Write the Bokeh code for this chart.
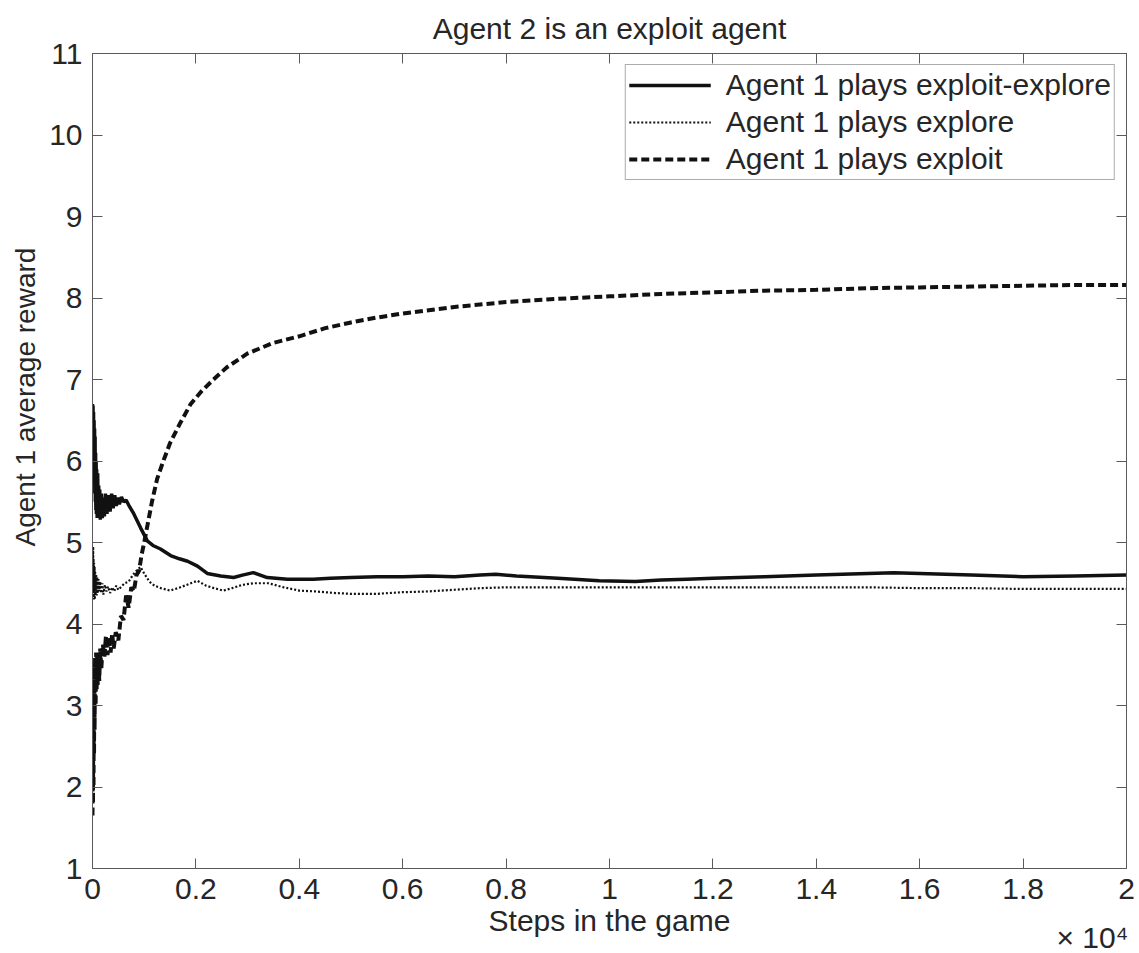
from bokeh.embed import file_html
from bokeh.models import (FixedTicker, Legend, LegendItem, LinearAxis,
                          Range1d, Title)
from bokeh.plotting import figure
from bokeh.resources import INLINE

# ---- data -------------------------------------------------------------
# Agent 1 average reward against steps in the game (agent 2 exploits)
ee_steps = [0, 5, 10, 15, 20, 25, 30, 35, 40, 45, 50, 55, 60, 65, 70, 75, 80,
            90, 100, 110, 120, 130, 140, 150, 170, 190, 210, 230, 250, 280,
            310, 340, 370, 400, 430, 460, 490, 520, 560, 600, 650, 700, 800,
            930, 1060, 1180, 1315, 1510, 1680, 1840, 2030, 2220, 2480, 2730,
            2900, 3110, 3380, 3770, 4270, 4600, 5000, 5500, 6000, 6500, 7000,
            7500, 7800, 8200, 9000, 9800, 10500, 11000, 11500, 12000, 13000,
            14000, 14500, 15000, 15500, 16000, 16500, 17000, 18000, 19000,
            20000]
ee_reward = [6.70, 5.90, 6.68, 6.10, 6.60, 5.95, 6.50, 5.80, 6.40, 5.60, 6.30,
             5.50, 6.10, 5.40, 6.00, 5.35, 5.90, 5.30, 5.85, 5.30, 5.70, 5.30,
             5.65, 5.28, 5.60, 5.30, 5.55, 5.32, 5.60, 5.35, 5.58, 5.38, 5.60,
             5.42, 5.58, 5.45, 5.55, 5.47, 5.56, 5.50, 5.52, 5.46, 5.35, 5.18,
             5.02, 4.96, 4.92, 4.84, 4.80, 4.77, 4.71, 4.62, 4.59, 4.57, 4.60,
             4.63, 4.57, 4.55, 4.55, 4.56, 4.57, 4.58, 4.58, 4.59, 4.58, 4.60,
             4.61, 4.59, 4.56, 4.53, 4.52, 4.54, 4.55, 4.56, 4.58, 4.60, 4.61,
             4.62, 4.63, 4.62, 4.61, 4.60, 4.58, 4.59, 4.60]

ex_steps = [0, 4, 8, 12, 16, 20, 25, 30, 35, 40, 45, 50, 60, 70, 80, 90, 100,
            115, 130, 150, 170, 190, 210, 240, 270, 300, 340, 380, 420, 460,
            500, 560, 620, 700, 780, 860, 930, 1000, 1100, 1200, 1320, 1500,
            1700, 1900, 2030, 2200, 2350, 2530, 2700, 2900, 3110, 3400, 3700,
            4000, 4300, 4700, 5000, 5500, 6000, 6500, 7000, 7500, 8000, 9000,
            10000, 11000, 12000, 13000, 14000, 15000, 16000, 17000, 18000,
            19000, 20000]
ex_reward = [4.50, 4.90, 4.35, 4.95, 4.40, 4.80, 4.30, 4.75, 4.40, 4.70, 4.30,
             4.65, 4.35, 4.60, 4.35, 4.58, 4.38, 4.55, 4.40, 4.52, 4.38, 4.50,
             4.36, 4.48, 4.40, 4.46, 4.38, 4.45, 4.40, 4.47, 4.42, 4.46, 4.50,
             4.52, 4.60, 4.66, 4.70, 4.62, 4.52, 4.47, 4.44, 4.41, 4.45, 4.50,
             4.53, 4.47, 4.44, 4.41, 4.44, 4.48, 4.50, 4.50, 4.45, 4.41, 4.40,
             4.38, 4.37, 4.37, 4.39, 4.40, 4.42, 4.44, 4.45, 4.45, 4.45, 4.45,
             4.45, 4.45, 4.45, 4.45, 4.44, 4.44, 4.43, 4.43, 4.43]

xp_steps = [0, 5, 10, 15, 20, 25, 30, 35, 40, 50, 60, 70, 80, 90, 100, 115,
            130, 150, 170, 200, 230, 260, 290, 320, 350, 380, 410, 450, 500,
            550, 600, 650, 700, 750, 800, 850, 900, 950, 1000, 1060, 1150,
            1250, 1370, 1500, 1700, 1900, 2100, 2340, 2600, 3000, 3500, 4000,
            4500, 5000, 5500, 6000, 7000, 8000, 9000, 10000, 11000, 12000,
            13000, 14000, 15000, 16000, 17000, 18000, 19000, 20000]
xp_reward = [1.65, 2.60, 1.80, 3.00, 2.00, 3.30, 2.40, 3.50, 2.70, 3.60, 3.00,
             3.65, 3.20, 3.60, 3.25, 3.65, 3.30, 3.70, 3.45, 3.75, 3.60, 3.85,
             3.62, 3.85, 3.65, 3.88, 3.70, 3.90, 3.80, 4.10, 4.05, 4.35, 4.20,
             4.45, 4.40, 4.60, 4.65, 4.85, 5.00, 5.20, 5.50, 5.78, 6.00, 6.22,
             6.47, 6.70, 6.85, 7.00, 7.15, 7.32, 7.45, 7.53, 7.63, 7.70, 7.76,
             7.81, 7.89, 7.95, 7.99, 8.02, 8.05, 8.07, 8.09, 8.10, 8.12, 8.13,
             8.14, 8.15, 8.16, 8.16]

x_ticks = [0, 2000, 4000, 6000, 8000, 10000, 12000, 14000, 16000, 18000, 20000]
x_tick_labels = ["0", "0.2", "0.4", "0.6", "0.8", "1", "1.2", "1.4", "1.6",
                 "1.8", "2"]
y_ticks = [1, 2, 3, 4, 5, 6, 7, 8, 9, 10, 11]

series_names = ["Agent 1 plays exploit-explore", "Agent 1 plays explore",
                "Agent 1 plays exploit"]

# ---- styling ----------------------------------------------------------
FONT = "Liberation Sans"
FS = "30px"
TEXT = "#262626"
AXIS = "#5a5a5a"
INK = "#111111"

p = figure(width=1139, height=953, output_backend="svg",
           toolbar_location=None, x_axis_type=None, y_axis_type=None,
           x_range=Range1d(0, 20000), y_range=Range1d(1, 11),
           min_border_left=92, min_border_right=13, min_border_top=52,
           min_border_bottom=85)
p.grid.visible = False
p.outline_line_color = AXIS
p.outline_line_width = 1
p.background_fill_color = "white"
p.border_fill_color = "white"


def make_axis(ticks, labelled, overrides=None):
    ax = LinearAxis(ticker=FixedTicker(ticks=ticks))
    ax.axis_line_color = AXIS
    ax.major_tick_line_color = AXIS
    ax.major_tick_in = 10
    ax.major_tick_out = 0
    ax.minor_tick_line_color = None
    if labelled:
        ax.major_label_text_font = FONT
        ax.major_label_text_font_size = FS
        ax.major_label_text_color = TEXT
        ax.major_label_standoff = 10
        if overrides:
            ax.major_label_overrides = overrides
    else:
        # mirrored ticks only, no labels
        ax.major_label_text_color = None
        ax.major_label_text_alpha = 0
        ax.major_label_text_font_size = "1px"
        ax.major_label_standoff = 0
    return ax


x_over = {t: s for t, s in zip(x_ticks, x_tick_labels)}
p.add_layout(make_axis(x_ticks, True, x_over), "below")
p.add_layout(make_axis(y_ticks, True), "left")
p.add_layout(make_axis(x_ticks, False), "above")
p.add_layout(make_axis(y_ticks, False), "right")

r_ee = p.line(ee_steps, ee_reward, line_color=INK, line_width=3.5)
r_ex = p.line(ex_steps, ex_reward, line_color=INK, line_width=2.2,
              line_dash="2 2")
r_xp = p.line(xp_steps, xp_reward, line_color=INK, line_width=4,
              line_dash="8 4")

legend = Legend(items=[LegendItem(label=series_names[0], renderers=[r_ee]),
                       LegendItem(label=series_names[1], renderers=[r_ex]),
                       LegendItem(label=series_names[2], renderers=[r_xp])],
                location="top_right")
legend.label_text_font = FONT
legend.label_text_font_size = "30px"
legend.label_text_color = TEXT
legend.glyph_width = 82
legend.glyph_height = 30
legend.label_height = 30
legend.label_standoff = 15
legend.spacing = 3
legend.padding = 3
legend.margin = 11
legend.border_line_color = AXIS
legend.border_line_width = 1.5
legend.background_fill_alpha = 1
p.add_layout(legend, "center")


# title and axis captions as side-panel titles
def caption(text, side, **kw):
    t = Title(text=text, text_font=FONT, text_font_size=kw.pop("size", FS),
              text_color=TEXT, text_font_style="normal", **kw)
    p.add_layout(t, side)
    return t


caption("Agent 2 is an exploit agent", "above", align="center", standoff=18)
caption("Steps in the game", "below", align="center", standoff=0)
caption("\u00d7 10\u2074", "below", align="right", vertical_align="top",
        offset=-2, standoff=-32)
caption("Agent 1 average reward", "left", align="left", offset=322,
        standoff=12, size="28px")

open("out.html", "w").write(file_html(p, INLINE))
